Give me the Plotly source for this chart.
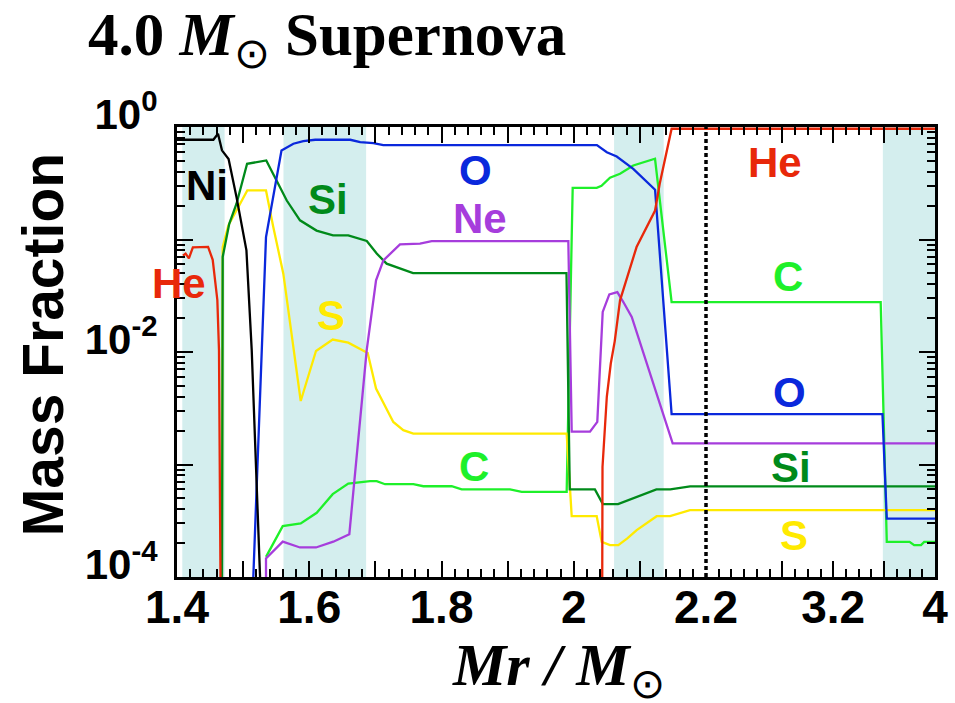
import plotly.graph_objects as go

# ---------------------------------------------------------------------------
# Abundance profiles of the 4.0 Msun supernova ejecta (mass fraction vs Mr)
# The inner zone 1.4-2.2 Msun uses a stretched linear scale, the outer
# zone 2.2-4.0 Msun is compressed onto a second linear axis.
# ---------------------------------------------------------------------------
MR_BREAK = 2.2

mr_ni = [1.400, 1.455, 1.462, 1.468, 1.478, 1.490, 1.505, 1.513, 1.527]
x_ni = [0.77, 0.77, 0.87, 0.62, 0.52, 0.238, 0.08, 0.0104, 6e-5]

mr_he_inner = [1.409, 1.413, 1.418, 1.424, 1.447, 1.454, 1.461, 1.4635, 1.466]
x_he_inner = [0.072, 0.075, 0.068, 0.085, 0.086, 0.066, 0.029, 0.0104, 6e-5]

mr_he_outer = [2.0430, 2.0435, 2.050, 2.056, 2.062, 2.070, 2.095, 2.123, 2.130,
               2.148, 2.200, 4.000]
x_he_outer = [6e-5, 9.5e-4, 0.004, 0.0079, 0.0125, 0.0288, 0.0857, 0.181, 0.313,
              0.965, 0.965, 0.965]

mr_o = [1.514, 1.528, 1.5346, 1.558, 1.576, 1.591, 1.609, 1.662, 1.677, 1.697,
        1.712, 2.035, 2.050, 2.065, 2.090, 2.123, 2.148, 2.200, 3.587, 3.621, 4.000]
x_o = [6e-5, 0.0104, 0.105, 0.618, 0.71, 0.748, 0.77, 0.77, 0.733, 0.718,
       0.69, 0.69, 0.597, 0.547, 0.425, 0.277, 0.0028, 0.0028, 0.0028, 3.3e-4, 3.3e-4]

mr_si = [1.4680, 1.4691, 1.479, 1.490, 1.506, 1.535, 1.548, 1.566, 1.586, 1.611,
         1.636, 1.659, 1.687, 1.702, 1.717, 1.737, 1.757, 1.989, 1.994, 2.032,
         2.044, 2.067, 2.090, 2.125, 2.146, 2.176, 2.200, 4.000]
x_si = [6e-5, 0.07, 0.138, 0.208, 0.471, 0.504, 0.358, 0.222, 0.148, 0.12,
        0.109, 0.109, 0.097, 0.075, 0.061, 0.055, 0.0503, 0.0503, 6.0e-4, 6.0e-4,
        4.44e-4, 4.44e-4, 5.0e-4, 6.0e-4, 6.0e-4, 6.4e-4, 6.4e-4, 6.4e-4]

mr_s = [1.4676, 1.4691, 1.4776, 1.4903, 1.5063, 1.5346, 1.5456, 1.5608, 1.5735,
        1.5871, 1.6102, 1.6355, 1.659, 1.6884, 1.701, 1.7271, 1.7422, 1.7574,
        1.9893, 1.9969, 2.0347, 2.0423, 2.0548, 2.0674, 2.0810, 2.0952, 2.1254,
        2.1456, 2.1758, 2.200, 4.000]
x_s = [6e-5, 0.0857, 0.133, 0.181, 0.273, 0.273, 0.129, 0.0497, 0.0146,
       0.00367, 0.0102, 0.0129, 0.0121, 0.0098, 0.00473, 0.00239, 0.00202, 0.00188,
       0.00188, 3.47e-4, 3.47e-4, 2.05e-4, 1.92e-4, 1.92e-4, 2.2e-4, 2.61e-4, 3.47e-4,
       3.47e-4, 3.93e-4, 3.93e-4, 3.93e-4]

mr_ne = [1.5346, 1.5346, 1.5599, 1.586, 1.6102, 1.6364, 1.6606, 1.6869, 1.701,
         1.7121, 1.7372, 1.7675, 1.7852, 1.9918, 1.9969, 2.0246, 2.0356, 2.0438,
         2.0538, 2.0659, 2.075, 2.0877, 2.1496, 2.200, 4.000]
x_ne = [6e-5, 1.46e-4, 2.06e-4, 1.83e-4, 1.83e-4, 2.06e-4, 2.4e-4, 0.0104, 0.0433,
        0.0652, 0.0905, 0.0918, 0.0968, 0.0968, 0.00196, 0.00196, 0.00239, 0.0227,
        0.0325, 0.0341, 0.0278, 0.0205, 0.00154, 0.00154, 0.00154]

mr_c = [1.5346, 1.5599, 1.5871, 1.6113, 1.6355, 1.659, 1.6919, 1.702, 1.7146,
        1.7574, 1.7725, 1.8154, 1.8305, 1.9036, 1.9213, 1.9893, 1.9984, 2.0347,
        2.042, 2.0548, 2.070, 2.090, 2.1229, 2.148, 2.200, 3.573, 3.621, 3.800,
        3.836, 3.890, 3.915, 4.000]
x_c = [1.51e-4, 2.83e-4, 2.99e-4, 3.72e-4, 5.45e-4, 6.78e-4, 7.11e-4, 7.11e-4, 6.68e-4,
       6.68e-4, 6.41e-4, 6.41e-4, 6.0e-4, 6.0e-4, 5.71e-4, 5.71e-4, 0.288, 0.288,
       0.30, 0.354, 0.384, 0.455, 0.522, 0.0278, 0.0278, 0.0278, 2.05e-4, 2.05e-4,
       1.92e-4, 1.92e-4, 2.05e-4, 2.05e-4]

# shaded zones (Mr ranges)
bands_inner = [(1.408, 1.472), (1.561, 1.686), (2.061, 2.136)]
bands_outer = [(3.59, 4.0)]

# tick values / labels
x_inner_ticks = [1.4, 1.5, 1.6, 1.7, 1.8, 1.9, 2.0, 2.1, 2.2]
x_inner_text = ["1.4", "", "1.6", "", "1.8", "", "2", "", "2.2"]
x_outer_ticks = [2.8, 3.2, 3.6, 4.0]
x_outer_text = ["", "3.2", "", "4"]
y_ticks = [1e-4, 1e-3, 1e-2, 1e-1, 1.0]
y_text = ["<b>10<sup>-4</sup></b>", "", "<b>10<sup>-2</sup></b>", "", "<b>10<sup>0</sup></b>"]

RED = "#e8280a"
BLUE = "#0a28dc"
DKGREEN = "#008a1a"
LIME = "#1ef02a"
YELLOW = "#ffea00"
PURPLE = "#a63ddc"
BLACK = "#000000"
BAND = "#d4eeee"

series = [
    (mr_c, x_c, LIME),
    (mr_s, x_s, YELLOW),
    (mr_si, x_si, DKGREEN),
    (mr_ne, x_ne, PURPLE),
    (mr_o, x_o, BLUE),
    (mr_he_inner, x_he_inner, RED),
    (mr_he_outer, x_he_outer, RED),
    (mr_ni, x_ni, BLACK),
]

# frame geometry (pixels)
W, H = 955, 703
PL, PR, PT, PB = 177, 935, 126.5, 577
SPLIT = (706 - PL) / (PR - PL)

fig = go.Figure()
for mr, xs, col in series:
    inner = [(m, v) for m, v in zip(mr, xs) if m <= MR_BREAK]
    outer = [(m, v) for m, v in zip(mr, xs) if m >= MR_BREAK]
    if len(inner) > 1:
        fig.add_trace(go.Scatter(x=[p[0] for p in inner], y=[p[1] for p in inner],
                                 mode="lines", line=dict(color=col, width=2.3),
                                 xaxis="x", yaxis="y", hoverinfo="skip"))
    if len(outer) > 1:
        fig.add_trace(go.Scatter(x=[p[0] for p in outer], y=[p[1] for p in outer],
                                 mode="lines", line=dict(color=col, width=2.3),
                                 xaxis="x2", yaxis="y2", hoverinfo="skip"))

shapes = []
for a, b in bands_inner:
    shapes.append(dict(type="rect", xref="x", yref="paper", x0=a, x1=b, y0=0, y1=1,
                       fillcolor=BAND, line=dict(width=0), layer="below"))
for a, b in bands_outer:
    shapes.append(dict(type="rect", xref="x2", yref="paper", x0=a, x1=b, y0=0, y1=1,
                       fillcolor=BAND, line=dict(width=0), layer="below"))
# boundary between the two Mr scales
shapes.append(dict(type="line", xref="paper", yref="paper", x0=SPLIT, x1=SPLIT,
                   y0=0, y1=1, line=dict(color="black", width=3.5, dash="4px,3px"),
                   layer="above"))

sans = "Liberation Sans, Arial, Helvetica, sans-serif"
serif = "Liberation Serif, Times New Roman, serif"

common_x = dict(showline=True, linewidth=3, linecolor="black", mirror="ticks",
                ticks="inside", ticklen=16, tickwidth=2, tickcolor="black",
                showgrid=False, zeroline=False, tickmode="array", automargin=False,
                ticklabelstandoff=-12,
                tickfont=dict(family=sans, size=46, color="black", weight="bold"))
minor_x = dict(ticks="inside", ticklen=8, tickwidth=2, tickcolor="black", showgrid=False)

common_y = dict(type="log", range=[-4, 0], showline=True, linewidth=3, linecolor="black",
                ticks="inside", ticklen=16, tickwidth=2, tickcolor="black",
                showgrid=False, zeroline=False, tickmode="array", tickvals=y_ticks,
                automargin=False,
                minor=dict(ticks="inside", ticklen=8, tickwidth=2, tickcolor="black",
                           tickvals=[k * 10 ** e for e in range(-4, 0) for k in range(2, 10)],
                           showgrid=False),
                domain=[0, 1])

fig.update_layout(
    width=W, height=H,
    margin=dict(l=PL, r=W - PR, t=PT, b=H - PB, pad=0, autoexpand=False),
    plot_bgcolor="white", paper_bgcolor="white",
    showlegend=False,
    shapes=shapes,
    xaxis=dict(domain=[0, SPLIT], range=[1.4, MR_BREAK], anchor="y",
               tickvals=x_inner_ticks, ticktext=x_inner_text,
               minor=dict(minor_x, dtick=0.02, tick0=1.4), **common_x),
    xaxis2=dict(domain=[SPLIT, 1], range=[MR_BREAK, 4.0], anchor="y2",
                tickvals=x_outer_ticks, ticktext=x_outer_text,
                minor=dict(minor_x, dtick=0.1, tick0=2.2), **common_x),
    yaxis=dict(anchor="x", side="left", ticktext=y_text,
               tickfont=dict(family=sans, size=42, color="black"),
               ticklabelshift=-13, ticklabelstandoff=8, **common_y),
    yaxis2=dict(anchor="x2", side="right", showticklabels=False, **common_y),
)


def px_to_paper(px, py):
    return (px - PL) / (PR - PL), (PB - py) / (PB - PT)


labels = [
    ("Ni", 207, 185, BLACK),
    ("He", 179, 283, RED),
    ("Si", 328, 199, DKGREEN),
    ("S", 331, 315, YELLOW),
    ("O", 475, 170, BLUE),
    ("Ne", 480, 218, PURPLE),
    ("C", 474, 466, LIME),
    ("He", 775, 162, RED),
    ("C", 788, 276, LIME),
    ("O", 789, 392, BLUE),
    ("Si", 791, 467, DKGREEN),
    ("S", 794, 535, YELLOW),
]
annotations = []
for txt, px, py, col in labels:
    ax, ay = px_to_paper(px, py)
    annotations.append(dict(text=f"<b>{txt}</b>", x=ax, y=ay, xref="paper", yref="paper",
                            xanchor="center", yanchor="middle", showarrow=False,
                            font=dict(family=sans, size=42, color=col)))

# title
tx, ty = px_to_paper(86, 38)
annotations.append(dict(text="<b>4.0 <i>M</i></b><sub>\u2299</sub><b> Supernova</b>",
                        x=tx, y=ty, xref="paper", yref="paper", xanchor="left",
                        yanchor="middle", showarrow=False,
                        font=dict(family=serif, size=61, color="black")))
# axis titles
xt, yt = px_to_paper(558, 670)
annotations.append(dict(text="<b><i>Mr / M</i></b><sub>\u2299</sub>",
                        x=xt, y=yt, xref="paper", yref="paper", xanchor="center",
                        yanchor="middle", showarrow=False,
                        font=dict(family=serif, size=60, color="black")))
yx, yy = px_to_paper(43, 345)
annotations.append(dict(text="<b>Mass Fraction</b>", x=yx, y=yy, xref="paper",
                        yref="paper", xanchor="center", yanchor="middle",
                        textangle=-90, showarrow=False,
                        font=dict(family=sans, size=57, color="black")))

fig.update_layout(annotations=annotations)

fig.write_html("out.html")
